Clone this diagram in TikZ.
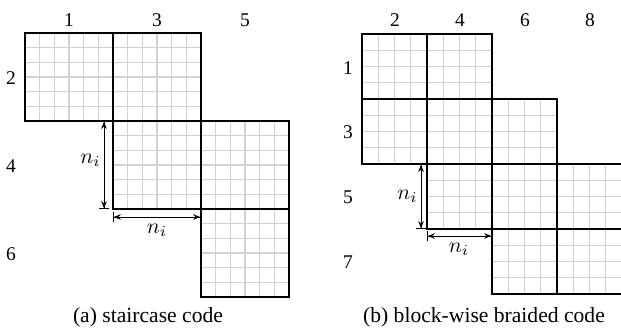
\documentclass[tikz,border=0pt]{standalone}
\usepackage{fontspec}
\setmainfont{Liberation Serif}
\usetikzlibrary{arrows.meta}
\tikzset{
  gridline/.style={draw=black!18, line width=0.5pt},
  blockline/.style={draw=black, line width=0.6pt},
  lbl/.style={font=\fontsize{9pt}{11pt}\selectfont, inner sep=0pt},
  captext/.style={font=\fontsize{10pt}{12pt}\selectfont, inner sep=0pt},
  dimarrow/.style={line width=0.4pt, {Bar[width=5pt]Stealth[length=3.2pt,width=2.6pt]}-{Stealth[length=3.2pt,width=2.6pt]Bar[width=5pt]}},
  nlab/.style={font=\fontsize{10pt}{12pt}\selectfont, inner sep=0pt}
}
\newcommand{\cellgrid}[4]{% x, y, size, cells
  \foreach \k in {1,...,#4}{
    \draw[gridline] ({#1+\k*#3/#4},#2) -- ++(0,#3);
    \draw[gridline] (#1,{#2+\k*#3/#4}) -- ++(#3,0);
  }}
\begin{document}
\begin{tikzpicture}[x=0.463pt,y=-0.463pt]
\useasboundingbox (0,0) rectangle (621,329);
\clip (0,0) rectangle (621,329);
% ---- (a) staircase code ----
\foreach \bx/\by in {25/33,113/33,113/121,201/121,201/209}{
  \cellgrid{\bx}{\by}{88}{6}
}
\foreach \bx/\by in {25/33,113/33,113/121,201/121,201/209}{
  \draw[blockline] (\bx,\by) rectangle ++(88,88);
}
\node[lbl] (ca1) at (69,20) {1};
\node[lbl] (ca3) at (157,20) {3};
\node[lbl] (ca5) at (245,20) {5};
\node[lbl] (ra2) at (11,78) {2};
\node[lbl] (ra4) at (11,166) {4};
\node[lbl] (ra6) at (11,254) {6};
\coordinate (av1) at (104,121);
\coordinate (av2) at (104,209);
\coordinate (ah1) at (113,217);
\coordinate (ah2) at (201,217);
\draw[dimarrow] (av2) -- (av1);
\draw[dimarrow] (ah1) -- (ah2);
\node[nlab, anchor=east] (na1) at (101,160) {$n_i$};
\node[nlab] (na2) at (157,230) {$n_i$};
\node[captext] (capa) at (148,317) {(a) staircase code};
% ---- (b) block-wise braided code ----
\foreach \bx/\by in {362/34,427/34,362/99,427/99,492/99,427/164,492/164,557/164,492/229,557/229}{
  \cellgrid{\bx}{\by}{65}{4}
}
\foreach \bx/\by in {362/34,427/34,362/99,427/99,492/99,427/164,492/164,557/164,492/229,557/229}{
  \draw[blockline] (\bx,\by) rectangle ++(65,65);
}
\node[lbl] (cb2) at (395,20) {2};
\node[lbl] (cb4) at (460,20) {4};
\node[lbl] (cb6) at (525,20) {6};
\node[lbl] (cb8) at (590,20) {8};
\node[lbl] (rb1) at (348,68) {1};
\node[lbl] (rb3) at (348,132) {3};
\node[lbl] (rb5) at (348,197) {5};
\node[lbl] (rb7) at (348,262) {7};
\coordinate (bv1) at (421,164);
\coordinate (bv2) at (421,229);
\coordinate (bh1) at (427,236);
\coordinate (bh2) at (492,236);
\draw[dimarrow] (bv2) -- (bv1);
\draw[dimarrow] (bh1) -- (bh2);
\node[nlab, anchor=east] (nb1) at (418,196) {$n_i$};
\node[nlab] (nb2) at (459,249) {$n_i$};
\node[captext] (capb) at (484,317) {(b) block-wise braided code};
\end{tikzpicture}
\end{document}
